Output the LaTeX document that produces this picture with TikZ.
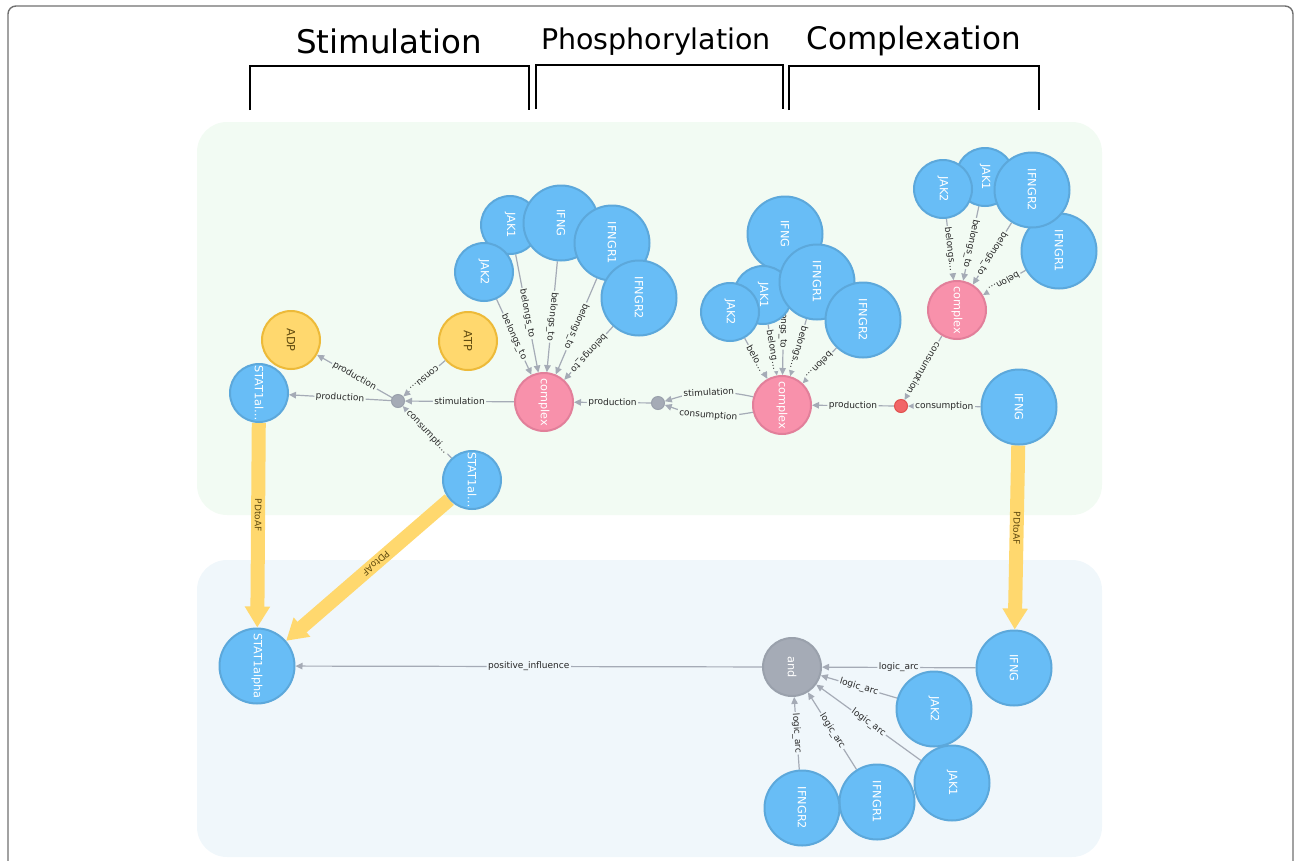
\documentclass[tikz,border=0pt]{standalone}
\usepackage{fontspec}
\setmainfont{DejaVu Sans}
\usetikzlibrary{arrows.meta}
\definecolor{nblue}{HTML}{68BDF6}
\definecolor{nbluel}{HTML}{5CA8DB}
\definecolor{nyel}{HTML}{FFD86E}
\definecolor{nyell}{HTML}{EDBA39}
\definecolor{npink}{HTML}{F891AB}
\definecolor{npinkl}{HTML}{E27F9A}
\definecolor{ngray}{HTML}{A5ABB6}
\definecolor{ngrayl}{HTML}{9AA1AC}
\definecolor{nred}{HTML}{F16667}
\definecolor{nredl}{HTML}{E0514F}
\definecolor{greenbg}{HTML}{F2FBF3}
\definecolor{bluebg}{HTML}{F0F7FB}
\definecolor{edgec}{HTML}{A5ABB6}
\definecolor{ytext}{HTML}{604A0E}
\definecolor{framec}{HTML}{707070}
\newcommand{\vt}[1]{\rotatebox{-90}{#1}}
\pgfdeclarelayer{bglayer}
\pgfdeclarelayer{edgelayer}
\pgfsetlayers{bglayer,edgelayer,main}
\begin{document}
\begin{tikzpicture}[x=1pt,y=-1pt,
  nd/.style={circle,inner sep=0pt,line width=2pt,font=\fontsize{11.3}{11.3}\selectfont},
  sm/.style={nd,minimum size=58pt},
  lg/.style={nd,minimum size=75pt},
  dotn/.style={circle,inner sep=0pt,minimum size=13pt,line width=1pt},
  bn/.style={fill=nblue,draw=nbluel,text=white},
  yn/.style={fill=nyel,draw=nyell,text=ytext},
  pn/.style={fill=npink,draw=npinkl,text=white},
  gn/.style={fill=ngray,draw=ngrayl,text=white},
  rn/.style={fill=nred,draw=nredl},
  rel/.style={draw=edgec,line width=1.2pt},
  relto/.style={rel,-{Triangle[length=7pt,width=6.5pt]}},
  relfr/.style={rel,{Triangle[length=7pt,width=6.5pt]}-},
  lab/.style={fill=greenbg,font=\fontsize{9}{9}\selectfont,inner sep=1.5pt,sloped,allow upside down,midway,text=black!85},
  labb/.style={lab,fill=bluebg},
  pd/.style={draw=nyel,line width=14pt,-{Triangle[length=21pt,width=24pt]}},
  pdl/.style={font=\fontsize{9}{9}\selectfont,text=ytext,sloped,allow upside down,pos=0.45,inner sep=0pt},
  hd/.style={anchor=base,text=black},
  brk/.style={draw=black,line width=1.6pt}
]
\useasboundingbox (0,0) rectangle (1294,860);

% panels and frame
\begin{pgfonlayer}{bglayer}
\fill[greenbg,rounded corners=30pt] (197,122) rectangle (1102,515);
\fill[bluebg,rounded corners=30pt] (197,560) rectangle (1102,857);
\draw[framec,line width=1.4pt,rounded corners=8pt] (8,862) -- (8,6) -- (1293,6) -- (1293,862);
\draw[brk] (250,110) -- (250,66) -- (529,66) -- (529,110);
\draw[brk] (536,109) -- (536,65) -- (783,65) -- (783,109);
\draw[brk] (789,110) -- (789,66) -- (1039,66) -- (1039,110);
\end{pgfonlayer}

% headers
\node[hd,font=\fontsize{32.5}{32.5}\selectfont] (h1) at (389,53) {Stimulation};
\node[hd,font=\fontsize{28.5}{28.5}\selectfont] (h2) at (656,49) {Phosphorylation};
\node[hd,font=\fontsize{31}{31}\selectfont] (h3) at (914,49) {Complexation};

% ---- top panel nodes ----
\node[sm,yn] (ADP) at (291,340) {\vt{ADP}};
\node[sm,yn] (ATP) at (468,341) {\vt{ATP}};
\node[sm,bn] (S1) at (259,393) {\vt{STAT1al…}};
\node[dotn,gn] (g1) at (398,401) {};
\node[sm,bn] (S2) at (472,480) {\vt{STAT1al…}};
\node[sm,pn] (cL) at (544,402) {\vt{complex}};
\node[sm,bn] (lJAK1) at (510,225) {\vt{JAK1}};
\node[lg,bn] (lIFNG) at (561,223) {\vt{IFNG}};
\node[lg,bn] (lIFNGR1) at (612,243) {\vt{IFNGR1}};
\node[lg,bn] (lIFNGR2) at (639,298) {\vt{IFNGR2}};
\node[sm,bn] (lJAK2) at (484,272) {\vt{JAK2}};

\node[dotn,gn] (g2) at (658,403) {};
\node[sm,pn] (cM) at (782,405) {\vt{complex}};
\node[lg,bn] (mIFNG) at (785,234) {\vt{IFNG}};
\node[sm,bn] (mJAK1) at (763,295) {\vt{JAK1}};
\node[sm,bn] (mJAK2) at (730,312) {\vt{JAK2}};
\node[lg,bn] (mIFNGR1) at (817,282) {\vt{IFNGR1}};
\node[lg,bn] (mIFNGR2) at (863,320) {\vt{IFNGR2}};
\node[dotn,rn] (red) at (901,406) {};

\node[sm,bn] (rJAK1) at (985,177) {\vt{JAK1}};
\node[sm,bn] (rJAK2) at (943,189) {\vt{JAK2}};
\node[lg,bn] (rIFNGR1) at (1059,251) {\vt{IFNGR1}};
\node[lg,bn] (rIFNGR2) at (1032,190) {\vt{IFNGR2}};
\node[sm,pn] (cR) at (957,310) {\vt{complex}};
\node[lg,bn] (rIFNG) at (1019,407) {\vt{IFNG}};

% ---- bottom panel nodes ----
\node[lg,bn] (SA) at (257,666) {\vt{STAT1alpha}};
\node[sm,gn] (and) at (792,667) {\vt{and}};
\node[lg,bn] (bIFNG) at (1014,668) {\vt{IFNG}};
\node[lg,bn] (bJAK2) at (934,709) {\vt{JAK2}};
\node[lg,bn] (bJAK1) at (952,783) {\vt{JAK1}};
\node[lg,bn] (bIFNGR1) at (877,802) {\vt{IFNGR1}};
\node[lg,bn] (bIFNGR2) at (802,808) {\vt{IFNGR2}};

% ---- edges ----
\begin{pgfonlayer}{edgelayer}
% left
\draw[relfr] (ADP) -- node[lab]{production} (g1);
\draw[relfr] (S1) -- node[lab]{production} (g1);
\draw[relto] (ATP) -- node[lab]{consu…} (g1);
\draw[relfr] (g1) -- node[lab]{consumpti…} (S2);
\draw[relfr] (g1) -- node[lab]{stimulation} (cL);
\draw[relfr] (cL) -- node[lab]{production} (g2);
\draw[relto] (lJAK2) -- node[lab]{belongs\_to} (cL);
\draw[relto] (lJAK1) -- node[lab]{belongs\_to} (cL);
\draw[relto] (lIFNG) -- node[lab]{belongs\_to} (cL);
\draw[relto] (lIFNGR1) -- node[lab]{belongs\_to} (cL);
\draw[relto] (lIFNGR2) -- node[lab]{belongs\_to} (cL);
% middle
\draw[relfr] (g2) to[bend left=15] node[lab]{stimulation} (cM);
\draw[relfr] (g2) to[bend right=15] node[lab]{consumption} (cM);
\draw[relfr] (cM) -- node[lab]{production} (red);
\draw[relto] (mJAK2) -- node[lab]{belo…} (cM);
\draw[relto] (mJAK1) -- node[lab]{belong…} (cM);
\draw[relto] (mIFNG) -- node[lab]{belongs\_to} (cM);
\draw[relto] (mIFNGR1) -- node[lab]{belongs…} (cM);
\draw[relto] (mIFNGR2) -- node[lab]{belon…} (cM);
% right
\draw[relto] (rJAK2) -- node[lab]{belongs…} (cR);
\draw[relto] (rJAK1) -- node[lab]{belongs\_to} (cR);
\draw[relto] (rIFNGR2) -- node[lab]{belongs\_to} (cR);
\draw[relto] (rIFNGR1) -- node[lab]{belon…} (cR);
\draw[relto] (cR) -- node[lab]{consumption} (red);
\draw[relfr] (red) -- node[lab]{consumption} (rIFNG);
% bottom
\draw[relfr] (SA) -- node[labb]{positive\_influence} (and);
\draw[relfr] (and) -- node[labb]{logic\_arc} (bIFNG);
\draw[relfr] (and) -- node[labb]{logic\_arc} (bJAK2);
\draw[relfr] (and) -- node[labb]{logic\_arc} (bJAK1);
\draw[relfr] (and) -- node[labb]{logic\_arc} (bIFNGR1);
\draw[relfr] (and) -- node[labb]{logic\_arc} (bIFNGR2);
% PDtoAF
\draw[pd] (S1) -- node[pdl]{PDtoAF} (SA);
\draw[pd] (S2) -- node[pdl]{PDtoAF} (SA);
\draw[pd] (rIFNG) -- node[pdl]{PDtoAF} (bIFNG);
\end{pgfonlayer}
\end{tikzpicture}
\end{document}
